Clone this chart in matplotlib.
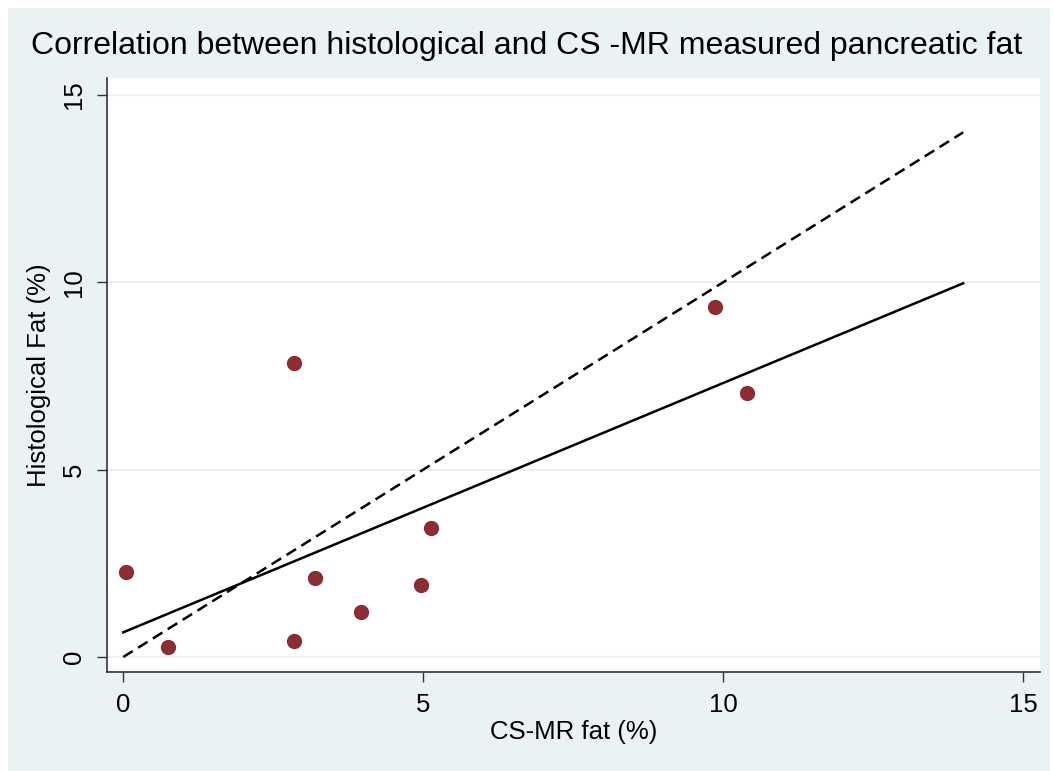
import numpy as np
import matplotlib
matplotlib.use('Agg')
import matplotlib.pyplot as plt
from matplotlib.patches import Rectangle

plt.rcParams['font.family'] = ['Liberation Sans', 'DejaVu Sans']

# CS-MR fat vs histological fat, one point per subject
mr_fat = [0.05, 0.75, 2.85, 2.85, 3.2, 3.97, 4.97, 5.13, 9.87, 10.4]
histo_fat = [2.27, 0.27, 7.85, 0.42, 2.12, 1.2, 1.92, 3.43, 9.35, 7.05]
line_range = [0, 14]
ticks = [0, 5, 10, 15]

fig = plt.figure(figsize=(10.54, 7.71), dpi=100)
fig.patch.set_facecolor('white')
# graph region background
fig.patches.append(Rectangle((8 / 1054, 0), 1 - 12 / 1054, 1 - 8 / 771,
                             transform=fig.transFigure, facecolor='#eaf2f3',
                             edgecolor='none', zorder=-10))

ax = fig.add_axes([107 / 1054, 1 - 672 / 771, (1040 - 107) / 1054, (672 - 78) / 771])
ax.set_facecolor('white')

for t in ticks:
    ax.axhline(t, color='#eaf2f3', lw=1.5, zorder=1)

# least squares fit and the line of equality
slope, intercept = np.polyfit(mr_fat, histo_fat, 1)
xs = np.array(line_range)
ax.plot(xs, intercept + slope * xs, color='black', lw=1.8, zorder=3)
ax.plot(xs, xs, color='black', lw=1.8, ls=(0, (4.5, 2.5)), zorder=3)

ax.plot(mr_fat, histo_fat, 'o', color='#8c2d35', markersize=11, mec='none', zorder=4)

ax.set_xlim(-0.27, 15.28)
ax.set_ylim(-0.4, 15.45)
ax.set_xticks(ticks)
ax.set_yticks(ticks)
ax.tick_params(direction='out', length=7, width=1, color='#333333',
               labelsize=18.5, pad=8)
for lbl in ax.get_yticklabels():
    lbl.set_rotation(90)
    lbl.set_va('center')
for side in ['top', 'right']:
    ax.spines[side].set_visible(False)
for side in ['left', 'bottom']:
    ax.spines[side].set_color('#333333')
    ax.spines[side].set_linewidth(1.2)

ax.set_xlabel('CS-MR fat (%)', fontsize=18.5, labelpad=2)
ax.set_ylabel('Histological Fat (%)', fontsize=18.5, labelpad=8)
fig.text(0.5, 1 - 46 / 771, 'Correlation between histological and CS -MR measured pancreatic fat',
         ha='center', va='center', fontsize=23)

fig.savefig('out.png', dpi=100, facecolor=fig.get_facecolor())
